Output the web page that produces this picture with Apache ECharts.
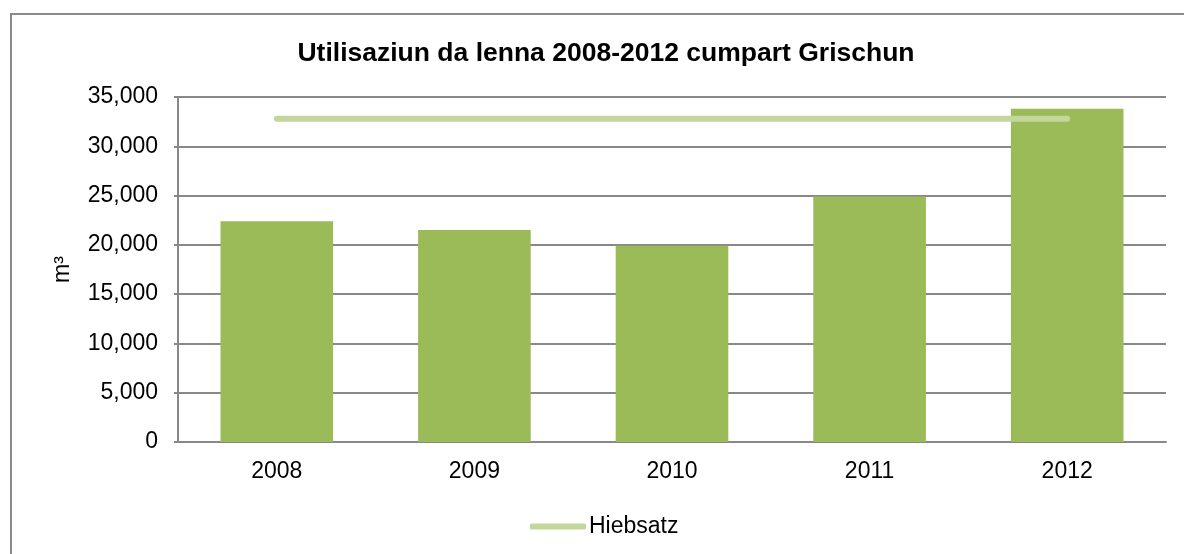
<!DOCTYPE html>
<html>
<head>
<meta charset="utf-8">
<script src="https://cdn.jsdelivr.net/npm/echarts@6/dist/echarts.min.js"></script>
<style>
  html, body { margin: 0; padding: 0; background: #fff; }
  #frame { position: absolute; left: 10px; top: 13px; width: 1200px; height: 600px; border: 2px solid #8a8a8a; }
  #chart { position: absolute; left: 0; top: 0; width: 1184px; height: 554px; }
</style>
</head>
<body>
<div id="frame"></div>
<div id="chart"></div>
<script>
var years = ['2008', '2009', '2010', '2011', '2012'];
var nutzung = [22400, 21500, 19900, 24900, 33800];   // Utilisaziun da lenna, m3
var hiebsatz = [32800, 32800, 32800, 32800, 32800];

var font = 'Liberation Sans, Arial, sans-serif';

var option = {
    animation: false,
    title: {
        text: 'Utilisaziun da lenna 2008-2012 cumpart Grischun',
        left: 601,
        top: 35,
        textAlign: 'center',
        textStyle: { fontFamily: font, fontSize: 26.5, fontWeight: 'bold', color: '#000' }
    },
    grid: { left: 178, right: 18, top: 97, bottom: 112 },
    legend: {
        data: ['Hiebsatz'],
        left: 525,
        top: 510,
        icon: 'roundRect',
        itemWidth: 56,
        itemHeight: 6,
        itemGap: 4,
        textStyle: { fontFamily: font, fontSize: 23, color: '#000', padding: [0, 0, 0, -2] }
    },
    xAxis: {
        type: 'category',
        data: years,
        axisLine: { lineStyle: { color: '#888', width: 2 } },
        axisTick: { show: false },
        axisLabel: { fontFamily: font, fontSize: 23, color: '#000', margin: 18 }
    },
    yAxis: {
        type: 'value',
        min: 0,
        max: 35000,
        interval: 5000,
        name: 'm³',
        nameLocation: 'middle',
        nameGap: 104,
        nameRotate: 90,
        nameTextStyle: { fontFamily: font, fontSize: 23, color: '#000' },
        axisLine: { show: true, lineStyle: { color: '#888', width: 2 } },
        axisTick: { show: true, length: 4, lineStyle: { color: '#888', width: 2 } },
        axisLabel: {
            fontFamily: font, fontSize: 23, color: '#000', margin: 20,
            formatter: function (v) { return v.toLocaleString('en-US'); }
        },
        splitLine: { lineStyle: { color: '#888', width: 2 } }
    },
    series: [
        {
            name: 'Utilisaziun',
            type: 'bar',
            data: nutzung,
            barWidth: '57%',
            itemStyle: { color: '#9bbb59' }
        },
        {
            name: 'Hiebsatz',
            type: 'line',
            data: hiebsatz,
            symbol: 'none',
            color: '#c3d69b',
            lineStyle: { color: '#c3d69b', width: 6, cap: 'round' }
        }
    ]
};

var myChart = echarts.init(document.getElementById('chart'));
myChart.setOption(option);
</script>
</body>
</html>
